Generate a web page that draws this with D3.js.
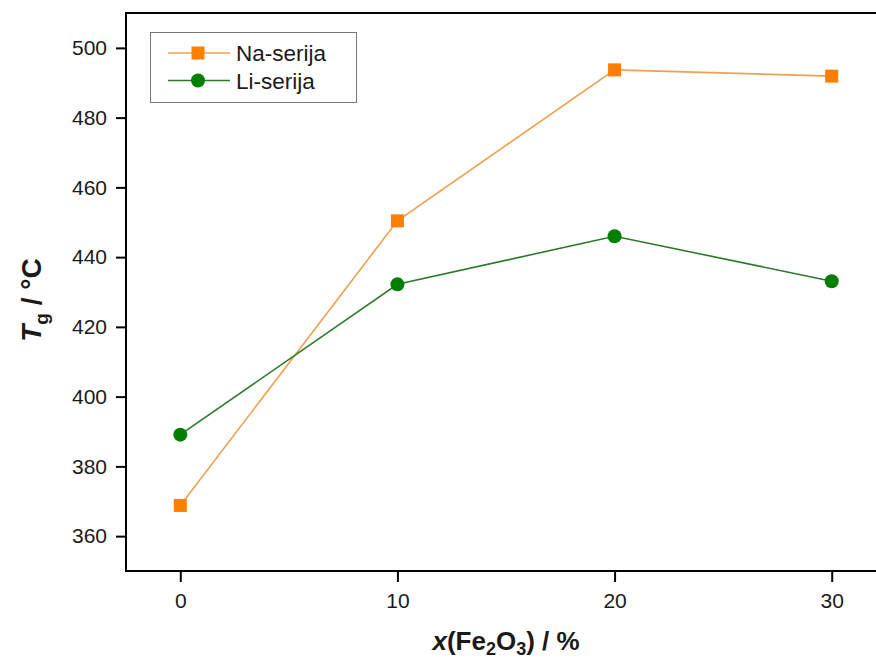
<!DOCTYPE html>
<html>
<head>
<meta charset="utf-8">
<script src="https://cdn.jsdelivr.net/npm/d3@7"></script>
<style>
  body { margin: 0; background: #fff; }
  svg { display: block; font-family: Arial, "Liberation Sans", sans-serif; }
</style>
</head>
<body>
<svg id="chart" width="876" height="660"></svg>
<script>
// data
const fe2o3 = [0, 10, 20, 30]
const naSerija = [368.8, 450.4, 493.7, 491.9]
const liSerija = [389.1, 432.2, 446.0, 433.1]
const yTicks = [360, 380, 400, 420, 440, 460, 480, 500]
const xTicks = [0, 10, 20, 30]
const seriesNames = ['Na-serija', 'Li-serija']

const svg = d3.select('#chart')
const mLeft = 126, mTop = 13, mBottom = 571, mRight = 886

const x = d3.scaleLinear().domain([-2.5, 32.5]).range([mLeft, mRight])
const y = d3.scaleLinear().domain([350, 510]).range([mBottom, mTop])

// axes
const yAxis = svg.append('g')
  .attr('transform', `translate(${mLeft},0)`)
  .call(d3.axisLeft(y).tickValues(yTicks).tickSize(10).tickPadding(9).tickSizeOuter(0))
const xAxis = svg.append('g')
  .attr('transform', `translate(0,${mBottom})`)
  .call(d3.axisBottom(x).tickValues(xTicks).tickSize(11).tickPadding(11).tickSizeOuter(0))

;[xAxis, yAxis].forEach(a => {
  a.select('.domain').remove()
  a.selectAll('line').attr('stroke', '#000').attr('stroke-width', 2)
  a.selectAll('text').attr('font-size', 21).attr('fill', '#1a1a1a')
    .attr('font-family', 'Arial, "Liberation Sans", sans-serif')
})

// frame
svg.append('rect')
  .attr('x', mLeft).attr('y', mTop)
  .attr('width', mRight - mLeft).attr('height', mBottom - mTop)
  .attr('fill', 'none').attr('stroke', '#000').attr('stroke-width', 2)

const series = [
  { name: seriesNames[0], values: naSerija, line: '#f0a050', fill: '#ff8000', shape: 'square' },
  { name: seriesNames[1], values: liSerija, line: '#2a7a2a', fill: '#007f00', shape: 'circle' }
]

const line = d3.line().x(d => x(d[0])).y(d => y(d[1]))

const drawMarker = (g, s, cx, cy) => {
  if (s.shape === 'square') {
    g.append('rect').attr('x', cx - 6.5).attr('y', cy - 6.5)
      .attr('width', 13).attr('height', 13).attr('fill', s.fill)
  } else {
    g.append('circle').attr('cx', cx).attr('cy', cy).attr('r', 7).attr('fill', s.fill)
  }
}

series.forEach(s => {
  const pts = fe2o3.map((v, i) => [v, s.values[i]])
  svg.append('path').datum(pts)
    .attr('d', line)
    .attr('fill', 'none')
    .attr('stroke', s.line)
    .attr('stroke-width', 1.6)
  const g = svg.append('g')
  pts.forEach(p => drawMarker(g, s, x(p[0]), y(p[1])))
})

// legend
const lg = svg.append('g')
lg.append('rect')
  .attr('x', 150.5).attr('y', 32.5).attr('width', 206).attr('height', 70)
  .attr('fill', '#fff').attr('stroke', '#777').attr('stroke-width', 1)
series.forEach((s, i) => {
  const ly = 53 + i * 27.5
  lg.append('line').attr('x1', 168).attr('x2', 230).attr('y1', ly).attr('y2', ly)
    .attr('stroke', s.line).attr('stroke-width', 1.6)
  drawMarker(lg, s, 198, ly)
  lg.append('text').attr('x', 236).attr('y', ly + 8)
    .attr('font-size', 22.5).attr('fill', '#1a1a1a').text(s.name)
})

// axis titles
const xt = svg.append('text')
  .attr('x', 506).attr('y', 650)
  .attr('text-anchor', 'middle')
  .attr('font-size', 26).attr('font-weight', 'bold').attr('fill', '#1a1a1a')
xt.append('tspan').attr('font-style', 'italic').text('x')
xt.append('tspan').text('(Fe')
xt.append('tspan').attr('font-size', 18).attr('dy', 5).text('2')
xt.append('tspan').attr('dy', -5).text('O')
xt.append('tspan').attr('font-size', 18).attr('dy', 5).text('3')
xt.append('tspan').attr('dy', -5).text(') / %')

const yt = svg.append('text')
  .attr('transform', 'translate(41,300) rotate(-90)')
  .attr('text-anchor', 'middle')
  .attr('font-size', 28).attr('font-weight', 'bold').attr('fill', '#1a1a1a')
yt.append('tspan').attr('font-style', 'italic').text('T')
yt.append('tspan').attr('font-size', 19).attr('dy', 7).text('g')
yt.append('tspan').attr('dy', -7).text(' / °C')
</script>
</body>
</html>
